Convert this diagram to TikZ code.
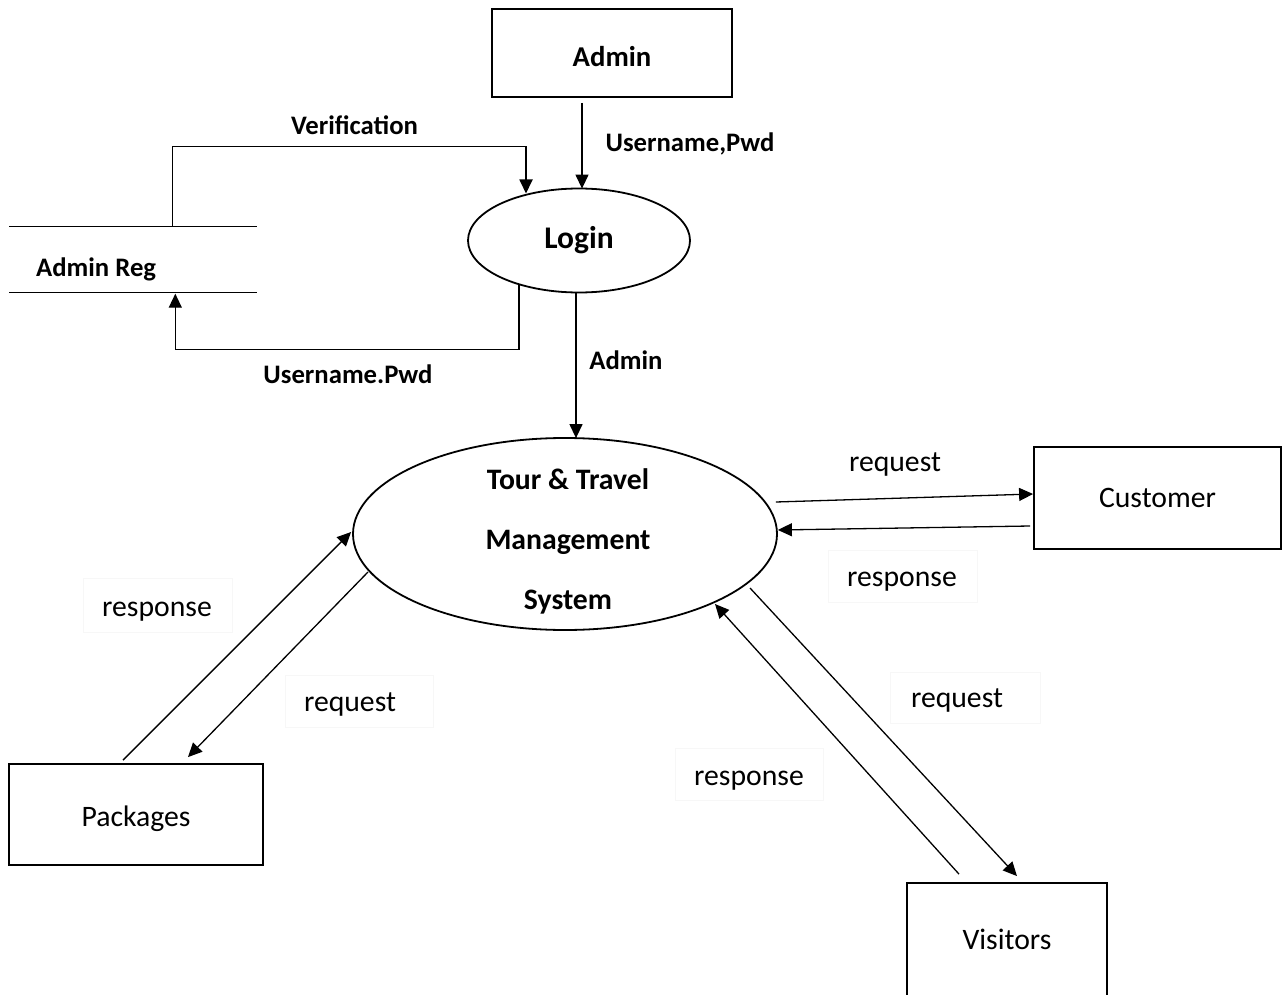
\documentclass[tikz,border=0pt]{standalone}
\usepackage{fontspec}
\setmainfont{Carlito}
\usetikzlibrary{arrows.meta,shapes.geometric,calc}
\begin{document}
\begin{tikzpicture}[x=1pt,y=-1pt,
  ent/.style={draw,line width=1.8pt,rectangle,inner sep=0pt,font=\fontsize{29.7}{34}\selectfont},
  proc/.style={draw,line width=1.8pt,ellipse,inner sep=0pt},
  flow/.style={line width=1.3pt,-{Triangle[length=14pt,width=13pt]}},
  wire/.style={line width=1.2pt},
  blbl/.style={font=\fontsize{26.7}{30}\selectfont\bfseries,inner sep=0pt,anchor=base},
  lbl/.style={font=\fontsize{29.7}{34}\selectfont,inner sep=0pt,anchor=base},
  tbox/.style={draw=black!3,line width=0.6pt}
]
\useasboundingbox (0,0) rectangle (1285,995);

% faint text-box frames around some labels
\draw[tbox] (828,550) rectangle (977,602);
\draw[tbox] (83,578) rectangle (232,632);
\draw[tbox] (285,675) rectangle (433,727);
\draw[tbox] (890,672) rectangle (1040,723);
\draw[tbox] (675,748) rectangle (823,800);

% external entities and processes
\node[ent,minimum width=240pt,minimum height=88pt,font=\fontsize{28.7}{34}\selectfont\bfseries,
      text height=27.4pt,text depth=0pt] (adm) at (612,53) {Admin};
\node[proc,minimum width=222pt,minimum height=104pt,font=\fontsize{31.5}{36}\selectfont\bfseries] (login) at (579,240.5) {Login};
\node[proc,minimum width=424pt,minimum height=192pt] (tts) at (565,534) {};
\node[align=center,inner sep=0pt,font=\fontsize{29.7}{60}\selectfont\bfseries] (ttstxt) at (568,541) {Tour \& Travel\\Management\\System};
\node[ent,minimum width=247pt,minimum height=102pt] (cust) at (1157.5,498) {Customer};
\node[ent,minimum width=254pt,minimum height=101pt,text height=24.4pt,text depth=0pt] (pkg) at (136,814.5) {Packages};
\node[ent,minimum width=200pt,minimum height=120pt,text height=12pt,text depth=0pt] (vis) at (1007,943) {Visitors};

% data store
\node[minimum width=247pt,minimum height=66pt,inner sep=0pt] (store) at (133,259.5) {};
\draw[wire] (store.north west) -- (store.north east);
\draw[wire] (store.south west) -- (store.south east);
\node[blbl,anchor=base west] (storelbl) at (36,276.7) {Admin Reg};

% flows around login
\draw[flow] ($(adm.south)+(-30,5)$) -- ($(login.north)+(3,1)$);
\draw[wire] ($(store.north west)+(163,0)$) |- ($(login.center)+(-53,-94)$);
\draw[flow,line width=1.8pt] ($(login.center)+(-53,-94)$) -- ($(login.center)+(-53,-47)$);
\draw[flow] ($(login.center)+(-60,44)$) |- ($(store.south west)+(166,57)$) -- ($(store.south west)+(166,1)$);
\draw[flow] ($(login.south)+(-3,0)$) -- ($(tts.north)+(11,1)$);

% flows around the main system
\draw[flow] ($(tts.east)+(-2,-32)$) -- ($(cust.west)+(0,-4)$);
\draw[flow] ($(cust.west)+(-3,28)$) -- ($(tts.east)+(0,-4)$);
\draw[flow] ($(pkg.north)+(-13,-3)$) -- ($(tts.west)+(-1,-2)$);
\draw[flow] ($(tts.center)+(-197,38)$) -- ($(pkg.north)+(52,-6)$);
\draw[flow] ($(tts.center)+(185,54)$) -- ($(vis.north)+(10,-6)$);
\draw[flow] ($(vis.north)+(-48,-8)$) -- ($(tts.center)+(150,70)$);

% flow labels
\node[blbl] (lver) at (354.5,135) {Verification};
\node[blbl] (lupw) at (690,151.7) {Username,Pwd};
\node[blbl] (lupw2) at (348,383) {Username.Pwd};
\node[blbl] (ladm) at (626,369) {Admin};
\node[lbl] (lcreq) at (895,471.7) {request};
\node[lbl] (lcres) at (902,586.7) {response};
\node[lbl] (lpres) at (157,616.7) {response};
\node[lbl] (lpreq) at (350,711.7) {request};
\node[lbl] (lvreq) at (957,707.7) {request};
\node[lbl] (lvres) at (749,785) {response};
\end{tikzpicture}
\end{document}
